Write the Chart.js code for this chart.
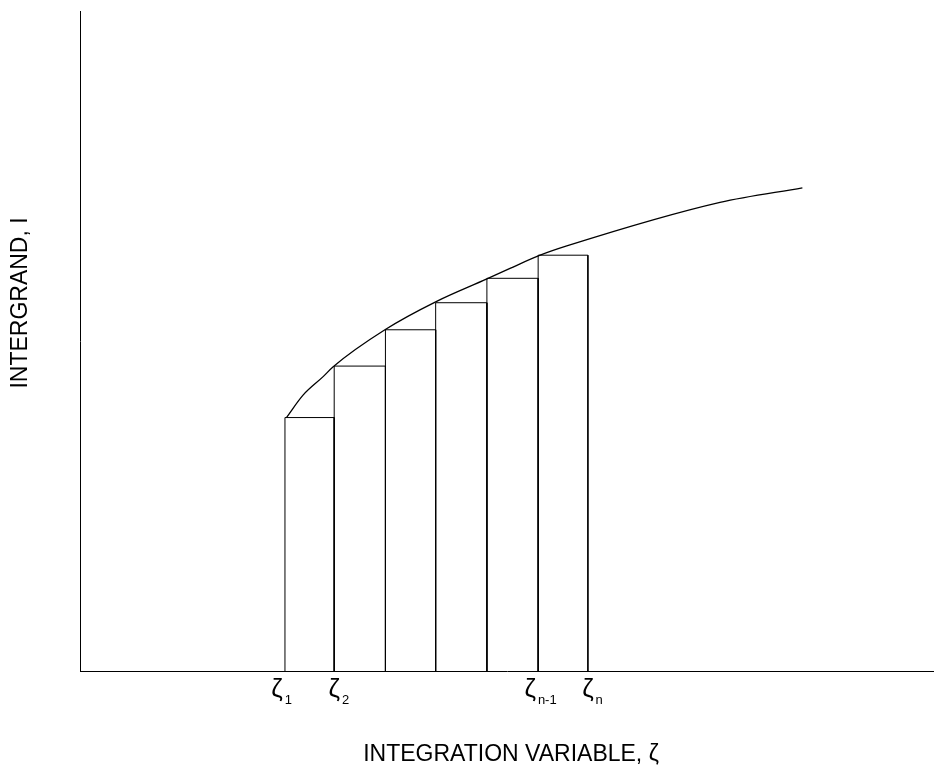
<!DOCTYPE html>
<html>
<head>
<meta charset="utf-8">
<script src="https://cdn.jsdelivr.net/npm/chart.js@4/dist/chart.umd.min.js"></script>
<style>
    html, body { margin: 0; padding: 0; background: #fff; }
    #wrap { width: 934px; height: 768px; }
</style>
</head>
<body>
<div id="wrap"><canvas id="riemannChart" width="934" height="768"></canvas></div>
<script>
// integrand curve I(zeta)
const curveX = [4.11, 4.44, 4.84, 5.04, 6.07, 7.10, 8.10, 8.56, 9.16, 9.69, 12.74, 14.38];
const curveY = [3.84, 4.18, 4.46, 4.61, 5.17, 5.60, 5.94, 6.10, 6.30, 6.44, 7.10, 7.32];

// rectangle edges (zeta values) and heights
const edges = [4.08, 5.06, 6.08, 7.08, 8.10, 9.12, 10.11];
const heights = [3.84, 4.62, 5.17, 5.58, 5.95, 6.30];

// labels under the edges: zeta + subscript
const edgeSubs = ['1', '2', '', '', '', 'n-1', 'n'];

const xTitle = 'INTEGRATION VARIABLE, \u03B6';
const yTitle = 'INTERGRAND, I';

const datasets = [];
datasets.push({
    data: curveX.map((x, i) => ({ x: x, y: curveY[i] })),
    borderColor: '#000',
    borderWidth: 1.3,
    pointRadius: 0,
    cubicInterpolationMode: 'monotone',
    fill: false
});
heights.forEach(function (h, i) {
    datasets.push({
        data: [
            { x: edges[i], y: 0 },
            { x: edges[i], y: h },
            { x: edges[i + 1], y: h },
            { x: edges[i + 1], y: 0 }
        ],
        borderColor: '#000',
        borderWidth: 1,
        pointRadius: 0,
        tension: 0,
        fill: false
    });
});

// small sideways nudge for each zeta glyph (px)
const labelNudge = [-8, 0, 0, 0, 0, -8, 0];

const textPlugin = {
    id: 'textPlugin',
    afterDraw: function (chart) {
        const ctx = chart.ctx;
        const xs = chart.scales.x;
        ctx.save();
        ctx.fillStyle = '#000';
        ctx.textBaseline = 'alphabetic';

        // zeta labels
        edges.forEach(function (e, i) {
            if (!edgeSubs[i]) return;
            const px = xs.getPixelForValue(e) + labelNudge[i];
            ctx.font = '26px "Liberation Sans", Arial, sans-serif';
            ctx.textAlign = 'center';
            ctx.fillText('\u03B6', px, 697);
            const w = ctx.measureText('\u03B6').width;
            ctx.font = '13px "Liberation Sans", Arial, sans-serif';
            ctx.textAlign = 'left';
            ctx.fillText(edgeSubs[i], px + w / 2 + 2, 704);
        });

        // axis titles
        ctx.font = '23px "Liberation Sans", Arial, sans-serif';
        ctx.textAlign = 'center';
        ctx.fillText(xTitle, 511, 761);
        ctx.translate(27, 303);
        ctx.rotate(-Math.PI / 2);
        ctx.fillText(yTitle, 0, 0);
        ctx.restore();
    }
};

document.addEventListener('DOMContentLoaded', function () {
    const c = document.getElementById('riemannChart').getContext('2d');
    new Chart(c, {
        type: 'line',
        data: { datasets: datasets },
        options: {
            responsive: false,
            animation: false,
            layout: { padding: { left: 80, right: 0, top: 11, bottom: 97 } },
            plugins: {
                legend: { display: false },
                tooltip: { enabled: false }
            },
            scales: {
                x: {
                    type: 'linear',
                    min: 0,
                    max: 17,
                    grid: { display: false, drawTicks: false },
                    ticks: { display: false },
                    border: { display: true, color: '#000', width: 1 },
                    afterFit: function (s) { s.height = 0; }
                },
                y: {
                    type: 'linear',
                    min: 0,
                    max: 10,
                    grid: { display: false, drawTicks: false },
                    ticks: { display: false },
                    border: { display: true, color: '#000', width: 1 },
                    afterFit: function (s) { s.width = 0; }
                }
            }
        },
        plugins: [textPlugin]
    });
});
</script>
</body>
</html>
